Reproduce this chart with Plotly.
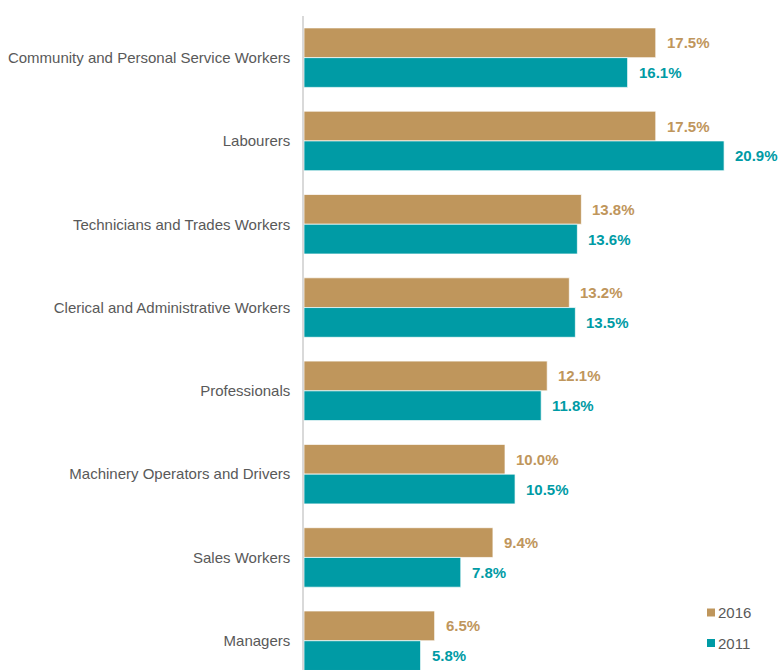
import plotly.graph_objects as go

# Occupation shares by census year (%)
categories = [
    "Community and Personal Service Workers",
    "Labourers",
    "Technicians and Trades Workers",
    "Clerical and Administrative Workers",
    "Professionals",
    "Machinery Operators and Drivers",
    "Sales Workers",
    "Managers",
]
values_2016 = [17.5, 17.5, 13.8, 13.2, 12.1, 10.0, 9.4, 6.5]
values_2011 = [16.1, 20.9, 13.6, 13.5, 11.8, 10.5, 7.8, 5.8]

series = [
    ("2016", values_2016, "#BF965C"),
    ("2011", values_2011, "#009BA5"),
]

W, H = 781, 670
LEFT, TOP = 304, 16
PX_PER_PCT = 20.1
PITCH = 83.3
BARGAP = 0.286

plot_w = W - LEFT
plot_h = H - TOP
xmax = plot_w / PX_PER_PCT
ybottom = -0.5 + plot_h / PITCH

positions = list(range(len(categories)))
bar_w = (1 - BARGAP) / len(series)

fig = go.Figure()
annotations = []
for k, (name, vals, color) in enumerate(series):
    fig.add_trace(go.Bar(
        name=name,
        x=vals,
        y=positions,
        orientation="h",
        marker=dict(color=color, line=dict(color="rgba(255,255,255,0.7)", width=1)),
        showlegend=False,
        hoverinfo="x+name",
    ))
    offset = (k - (len(series) - 1) / 2) * bar_w
    for p, v in zip(positions, vals):
        annotations.append(dict(
            x=v, y=p + offset, xref="x", yref="y",
            text=f"<b>{v:.1f}%</b>", showarrow=False,
            xanchor="left", yanchor="middle", xshift=9,
            font=dict(size=15, color=color, family="Liberation Sans, Arial, sans-serif"),
        ))

# Legend drawn as small squares with labels at the lower right
shapes = []
legend_px_x = 711
legend_px_y = [612.5, 643]
for (name, vals, color), py in zip(series, legend_px_y):
    cx = (legend_px_x - LEFT) / plot_w
    cy = (H - py) / plot_h
    shapes.append(dict(
        type="rect", xref="paper", yref="paper",
        xsizemode="pixel", ysizemode="pixel",
        xanchor=cx, yanchor=cy, x0=-4, x1=4, y0=-4, y1=4,
        fillcolor=color, line=dict(width=0),
    ))
    annotations.append(dict(
        x=(716 - LEFT) / plot_w, y=cy, xref="paper", yref="paper",
        text=name, showarrow=False, xanchor="left", yanchor="middle",
        font=dict(size=15, color="#595959", family="Liberation Sans, Arial, sans-serif"),
    ))

fig.update_layout(
    width=W, height=H,
    margin=dict(l=LEFT, r=0, t=TOP, b=0, autoexpand=False),
    barmode="group",
    bargap=BARGAP,
    bargroupgap=0,
    plot_bgcolor="white",
    paper_bgcolor="white",
    font=dict(family="Liberation Sans, Arial, sans-serif", size=15, color="#595959"),
    xaxis=dict(range=[0, xmax], visible=False, showgrid=False, zeroline=False),
    yaxis=dict(
        range=[ybottom, -0.5],
        tickmode="array", tickvals=positions, ticktext=categories,
        showgrid=False, zeroline=False,
        showline=True, linecolor="#D9D9D9", linewidth=1.5,
        ticks="outside", ticklen=9, tickcolor="rgba(0,0,0,0)",
        tickfont=dict(size=15, color="#595959"),
    ),
    annotations=annotations,
    shapes=shapes,
    showlegend=False,
)

fig.write_html("out.html")
